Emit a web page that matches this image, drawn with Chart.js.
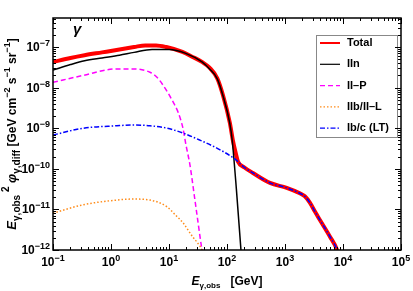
<!DOCTYPE html>
<html>
<head>
<meta charset="utf-8">
<script src="https://cdn.jsdelivr.net/npm/chart.js@4.4.1/dist/chart.umd.min.js"></script>
<style>
  body { margin: 0; background: #fff; }
  #wrap { width: 413px; height: 291px; }
</style>
</head>
<body>
<div id="wrap"><canvas id="gammaChart"></canvas></div>
<script>
// ===== Data (E in GeV, E^2 phi in GeV cm^-2 s^-1 sr^-1) =====
const seriesNames = ['Total', 'IIn', 'II\u2013P', 'IIb/II\u2013L', 'Ib/c (LT)'];

const totalE    = [0.1, 0.2, 0.35, 0.7, 1.4, 2.5, 3.9, 6, 9, 17, 25, 37, 50, 68, 85, 112, 126, 140, 155, 200, 280, 550, 1070, 1800, 2200, 2700, 3300, 4000, 6000, 7900, 9000];
const totalFlux = [4.3e-8, 5.4e-8, 6.3e-8, 7.4e-8, 8.7e-8, 1.0e-7, 1.1e-7, 1.1e-7, 1.0e-7, 7.6e-8, 5.8e-8, 4.3e-8, 3.1e-8, 1.7e-8, 6.6e-9, 1.35e-9, 5.1e-10, 2.6e-10, 1.5e-10, 1.08e-10, 7.9e-11, 4.5e-11, 3.4e-11, 2.5e-11, 2.1e-11, 1.45e-11, 8.7e-12, 5.5e-12, 2.1e-12, 1.0e-12, 5e-13];

const iinE    = [0.1, 0.2, 0.35, 0.7, 1.4, 2.5, 5.1, 10, 19, 37, 50, 68, 85, 112, 123, 145, 174, 185];
const iinFlux = [2.7e-8, 3.7e-8, 4.6e-8, 5.4e-8, 6.3e-8, 7.4e-8, 8.7e-8, 8.7e-8, 7.1e-8, 4.3e-8, 2.9e-8, 1.65e-8, 6.4e-9, 1.3e-9, 5.0e-10, 3.2e-11, 1.0e-12, 3e-13];

const iipE    = [0.1, 0.33, 1.26, 2.4, 4.7, 6.2, 7.9, 11.7, 14.3, 17.4, 19.6, 23, 28, 37, 40];
const iipFlux = [1.35e-8, 2.0e-8, 2.9e-8, 2.9e-8, 2.4e-8, 1.8e-8, 1.15e-8, 4.5e-9, 2.5e-9, 1.0e-9, 3.9e-10, 1.23e-10, 1.7e-11, 1.0e-12, 5e-13];

const iibE    = [0.1, 0.33, 1.26, 2.4, 4.7, 9.3, 13, 17.4, 25.7, 30, 37, 40];
const iibFlux = [8.1e-12, 1.3e-11, 1.7e-11, 1.8e-11, 1.7e-11, 1.15e-11, 7.2e-12, 4.7e-12, 2.1e-12, 1.6e-12, 1.0e-12, 7e-13];

const ibcE    = [0.1, 0.33, 1.26, 2.4, 4.7, 9.3, 17.4, 34, 68, 126, 155, 200, 280, 550, 1070, 1800, 2200, 2700, 3300, 4000, 6000, 7900, 9000];
const ibcFlux = [6.8e-10, 1.0e-9, 1.15e-9, 1.2e-9, 1.15e-9, 1.0e-9, 7.6e-10, 5.1e-10, 3.2e-10, 1.9e-10, 1.5e-10, 1.08e-10, 7.9e-11, 4.5e-11, 3.4e-11, 2.5e-11, 2.1e-11, 1.45e-11, 8.7e-12, 5.5e-12, 2.1e-12, 1.0e-12, 5e-13];

const xDecades = [-1, 0, 1, 2, 3, 4, 5];
const yDecades = [-12, -11, -10, -9, -8, -7];

const toPoints = (xs, ys) => xs.map((x, i) => ({ x: x, y: ys[i] }));

const BOLD = '"Liberation Sans", Arial, sans-serif';

// ===== helper: draw text made of parts (sub/superscripts) =====
function partsWidth(ctx, parts) {
    let w = 0;
    parts.forEach(p => { ctx.font = p.font; w += ctx.measureText(p.text).width; });
    return w;
}
function drawParts(ctx, parts, x, y, align) {
    const w = partsWidth(ctx, parts);
    let cx = align === 'center' ? x - w / 2 : (align === 'right' ? x - w : x);
    ctx.textAlign = 'left';
    ctx.textBaseline = 'alphabetic';
    parts.forEach(p => {
        ctx.font = p.font;
        ctx.fillText(p.text, cx, y + (p.dy || 0));
        cx += ctx.measureText(p.text).width;
    });
}
const powParts = (e) => [
    { text: '10', font: 'bold 12px ' + BOLD },
    { text: (e < 0 ? '\u2212' : '') + Math.abs(e), font: 'bold 9px ' + BOLD, dy: -5 }
];

// ===== ROOT-like frame, ticks, labels, legend =====
const frameplugin = {
    id: 'rootFrame',
    afterDatasetsDraw(chart) {
        const ctx = chart.ctx;
        const a = chart.chartArea;
        const xs = chart.scales.x, ys = chart.scales.y;
        ctx.save();

        // legend box
        const lx = 316, ly = 35, lw = 81, lh = 102;
        ctx.fillStyle = '#fff';
        ctx.fillRect(lx, ly, lw, lh);
        ctx.strokeStyle = '#888';
        ctx.lineWidth = 1;
        ctx.strokeRect(lx + 0.5, ly + 0.5, lw, lh);
        chart.data.datasets.forEach((ds, i) => {
            const ry = 43 + i * 21.3;
            ctx.strokeStyle = ds.borderColor;
            ctx.lineWidth = i === 0 ? 2 : 1.2;
            ctx.setLineDash(ds.borderDash || []);
            ctx.beginPath();
            ctx.moveTo(320, ry);
            ctx.lineTo(340, ry);
            ctx.stroke();
            ctx.setLineDash([]);
            ctx.fillStyle = '#000';
            ctx.font = 'bold 11px ' + BOLD;
            ctx.textAlign = 'left';
            ctx.textBaseline = 'middle';
            ctx.fillText(ds.label, 347, ry);
        });

        // ticks
        ctx.strokeStyle = '#000';
        ctx.lineWidth = 1;
        const major = 6, minor = 3;
        xDecades.forEach(d => {
            for (let m = 1; m <= 9; m++) {
                const v = m * Math.pow(10, d);
                if (v < xs.min || v > xs.max) continue;
                const px = Math.round(xs.getPixelForValue(v)) + 0.5;
                const len = m === 1 ? major : minor;
                ctx.beginPath();
                ctx.moveTo(px, a.bottom); ctx.lineTo(px, a.bottom - len);
                ctx.moveTo(px, a.top); ctx.lineTo(px, a.top + len);
                ctx.stroke();
            }
        });
        yDecades.forEach(d => {
            for (let m = 1; m <= 9; m++) {
                const v = m * Math.pow(10, d);
                if (v < ys.min || v > ys.max) continue;
                const py = Math.round(ys.getPixelForValue(v)) + 0.5;
                const len = m === 1 ? major : minor;
                ctx.beginPath();
                ctx.moveTo(a.left, py); ctx.lineTo(a.left + len, py);
                ctx.moveTo(a.right, py); ctx.lineTo(a.right - len, py);
                ctx.stroke();
            }
        });

        // frame
        ctx.lineWidth = 1.5;
        ctx.strokeRect(a.left, a.top, a.right - a.left, a.bottom - a.top);

        // tick labels
        ctx.fillStyle = '#000';
        xDecades.forEach(d => {
            drawParts(ctx, powParts(d), xs.getPixelForValue(Math.pow(10, d)), 266, 'center');
        });
        yDecades.forEach(d => {
            drawParts(ctx, powParts(d), 50, ys.getPixelForValue(Math.pow(10, d)) + 4, 'right');
        });

        // axis titles
        drawParts(ctx, [
            { text: 'E', font: 'italic bold 12px ' + BOLD },
            { text: '\u03b3,obs', font: 'bold 8px ' + BOLD, dy: 3 },
            { text: '   [GeV]', font: 'bold 12px ' + BOLD }
        ], (a.left + a.right) / 2, 285, 'center');

        ctx.save();
        ctx.translate(16, (a.top + a.bottom) / 2);
        ctx.rotate(-Math.PI / 2);
        drawParts(ctx, [
            { text: 'E', font: 'italic bold 13px ' + BOLD },
            { text: '\u03b3,obs', font: 'bold 10px ' + BOLD, dy: 4 },
            { text: ' 2', font: 'bold 10px ' + BOLD, dy: -7 },
            { text: ' \u03c6', font: 'italic bold 13px ' + BOLD },
            { text: '\u03b3,diff', font: 'bold 10px ' + BOLD, dy: 4 },
            { text: ' [GeV cm', font: 'bold 12px ' + BOLD },
            { text: '\u22122', font: 'bold 9px ' + BOLD, dy: -6 },
            { text: ' s', font: 'bold 12px ' + BOLD },
            { text: '\u22121', font: 'bold 9px ' + BOLD, dy: -6 },
            { text: ' sr', font: 'bold 12px ' + BOLD },
            { text: '\u22121', font: 'bold 9px ' + BOLD, dy: -6 },
            { text: ']', font: 'bold 12px ' + BOLD }
        ], 0, 0, 'center');
        ctx.restore();

        // particle label
        ctx.font = 'italic bold 15px ' + BOLD;
        ctx.textAlign = 'left';
        ctx.fillText('\u03b3', 73, 34);

        ctx.restore();
    }
};

// ===== Chart =====
const ctx = document.getElementById('gammaChart').getContext('2d');
const gammaChart = new Chart(ctx, {
    type: 'line',
    data: {
        datasets: [
            { label: seriesNames[0], data: toPoints(totalE, totalFlux), borderColor: '#ff0000', borderWidth: 4, order: 10 },
            { label: seriesNames[1], data: toPoints(iinE, iinFlux), borderColor: '#000000', borderWidth: 1.5, order: 9 },
            { label: seriesNames[2], data: toPoints(iipE, iipFlux), borderColor: '#ff00ff', borderWidth: 1.5, borderDash: [5, 3], order: 8 },
            { label: seriesNames[3], data: toPoints(iibE, iibFlux), borderColor: '#ff8c1a', borderWidth: 1.5, borderDash: [1.5, 2], order: 7 },
            { label: seriesNames[4], data: toPoints(ibcE, ibcFlux), borderColor: '#0000ff', borderWidth: 1.5, borderDash: [5, 2, 1.5, 2], order: 6 }
        ]
    },
    options: {
        responsive: true,
        maintainAspectRatio: false,
        animation: false,
        devicePixelRatio: 1,
        layout: { padding: { left: 53, top: 18, right: 12, bottom: 41 } },
        elements: {
            point: { radius: 0 },
            line: { cubicInterpolationMode: 'monotone', fill: false }
        },
        scales: {
            x: { type: 'logarithmic', min: 0.1, max: 1e5, display: false },
            y: { type: 'logarithmic', min: 1e-12, max: 5.2e-7, display: false }
        },
        plugins: {
            legend: { display: false },
            tooltip: { enabled: false }
        }
    },
    plugins: [frameplugin]
});
</script>
</body>
</html>
